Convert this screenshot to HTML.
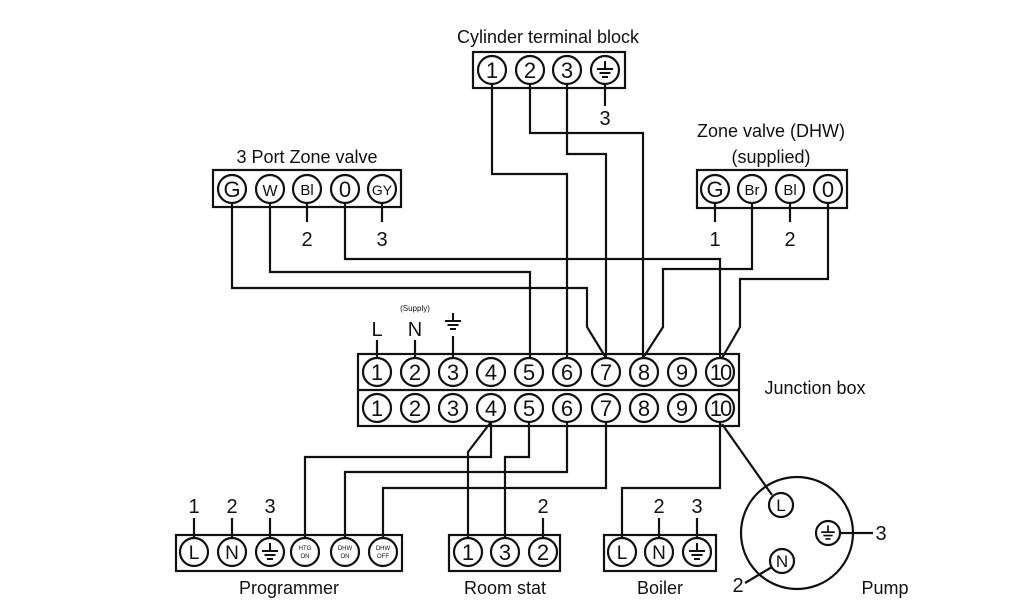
<!DOCTYPE html>
<html><head><meta charset="utf-8"><style>
html,body{margin:0;padding:0;background:#fff;width:1024px;height:600px;overflow:hidden}
svg{display:block}
text{font-family:"Liberation Sans",sans-serif;fill:#111}
</style></head><body>
<svg width="1024" height="600" viewBox="0 0 1024 600" xmlns="http://www.w3.org/2000/svg">
<defs>
<g id="earth"><line x1="0" y1="-9" x2="0" y2="-1" stroke="#111" stroke-width="2"/><line x1="-8" y1="-1" x2="8" y2="-1" stroke="#111" stroke-width="2"/><line x1="-5.5" y1="3" x2="5.5" y2="3" stroke="#111" stroke-width="2"/><line x1="-3" y1="7" x2="3" y2="7" stroke="#111" stroke-width="2"/></g>
</defs>
<g fill="none" stroke="#111" stroke-width="2.2">
<rect x="473" y="52" width="152" height="36"/>
<rect x="213" y="170" width="188" height="37"/>
<rect x="697" y="170" width="150" height="38"/>
<rect x="358" y="354" width="381" height="72"/>
<line x1="358" y1="390" x2="739" y2="390"/>
<rect x="176" y="535" width="226" height="36"/>
<rect x="449" y="535" width="111" height="36"/>
<rect x="604" y="535" width="112" height="36"/>
<circle cx="797" cy="533" r="56"/>
<polyline points="492,84 492,174 567,174 567,358"/>
<polyline points="530,84 530,133 643,133 643,358"/>
<polyline points="567,84 567,154 606,154 606,358"/>
<polyline points="232,203 232,288 587,288 587,327 606,358"/>
<polyline points="270,203 270,272 530,272 530,358"/>
<polyline points="345,203 345,259 720,259 720,358"/>
<polyline points="752,203 752,269 663,269 663,327 643,358"/>
<polyline points="828,203 828,279 740,279 740,327 722,358"/>
<line x1="605" y1="84" x2="605" y2="106"/>
<line x1="307" y1="203" x2="307" y2="222"/>
<line x1="382" y1="203" x2="382" y2="222"/>
<line x1="715" y1="203" x2="715" y2="222"/>
<line x1="790" y1="203" x2="790" y2="222"/>
<line x1="377" y1="340" x2="377" y2="358"/>
<line x1="415" y1="340" x2="415" y2="358"/>
<line x1="453" y1="336" x2="453" y2="358"/>
<polyline points="491,422 468,452 468,539"/>
<polyline points="491,422 491,457 305,457 305,539"/>
<polyline points="529,422 529,457 505,457 505,539"/>
<polyline points="567,422 567,472 345,472 345,539"/>
<polyline points="606,422 606,488 383,488 383,539"/>
<polyline points="720,422 720,488 622,488 622,539"/>
<line x1="722" y1="424" x2="772" y2="495"/>
<line x1="194" y1="518" x2="194" y2="539"/>
<line x1="232" y1="518" x2="232" y2="539"/>
<line x1="270" y1="518" x2="270" y2="539"/>
<line x1="543" y1="518" x2="543" y2="539"/>
<line x1="659" y1="518" x2="659" y2="539"/>
<line x1="697" y1="518" x2="697" y2="539"/>
<line x1="840" y1="533" x2="873" y2="533"/>
<line x1="772" y1="567" x2="745" y2="583"/>
</g>
<g fill="#fff" stroke="#111" stroke-width="2.2">
<circle cx="492" cy="70" r="14"/><circle cx="530" cy="70" r="14"/><circle cx="567" cy="70" r="14"/><circle cx="605" cy="70" r="14"/>
<circle cx="232" cy="189" r="14"/><circle cx="270" cy="189" r="14"/><circle cx="307" cy="189" r="14"/><circle cx="345" cy="189" r="14"/><circle cx="382" cy="189" r="14"/>
<circle cx="715" cy="189" r="14"/><circle cx="752" cy="189" r="14"/><circle cx="790" cy="189" r="14"/><circle cx="828" cy="189" r="14"/>
<g id="row"><circle cx="377" cy="372" r="14"/><circle cx="415" cy="372" r="14"/><circle cx="453" cy="372" r="14"/><circle cx="491" cy="372" r="14"/><circle cx="529" cy="372" r="14"/><circle cx="567" cy="372" r="14"/><circle cx="606" cy="372" r="14"/><circle cx="644" cy="372" r="14"/><circle cx="682" cy="372" r="14"/><circle cx="720" cy="372" r="14"/></g>
<use href="#row" y="36"/>
<circle cx="194" cy="552" r="14"/><circle cx="232" cy="552" r="14"/><circle cx="270" cy="552" r="14"/><circle cx="305" cy="552" r="14"/><circle cx="345" cy="552" r="14"/><circle cx="383" cy="552" r="14"/>
<circle cx="468" cy="552" r="14"/><circle cx="505" cy="552" r="14"/><circle cx="543" cy="552" r="14"/>
<circle cx="622" cy="552" r="14"/><circle cx="659" cy="552" r="14"/><circle cx="697" cy="552" r="14"/>
<circle cx="781" cy="505" r="12"/><circle cx="828" cy="533" r="12"/><circle cx="782" cy="561" r="12"/>
</g>
<use href="#earth" x="605" y="70"/>
<use href="#earth" x="453" y="322"/>
<use href="#earth" x="270" y="552"/>
<use href="#earth" x="697" y="552"/>
<g transform="translate(828,533) scale(0.85)"><use href="#earth"/></g>
<g font-size="18" text-anchor="middle">
<text x="548" y="43">Cylinder terminal block</text>
<text x="307" y="163">3 Port Zone valve</text>
<text x="771" y="137">Zone valve (DHW)</text>
<text x="771" y="163">(supplied)</text>
<text x="815" y="394">Junction box</text>
<text x="289" y="594">Programmer</text>
<text x="505" y="594">Room stat</text>
<text x="660" y="594">Boiler</text>
<text x="885" y="594">Pump</text>
</g>
<g font-size="22" text-anchor="middle">
<text x="492" y="78">1</text><text x="530" y="78">2</text><text x="567" y="78">3</text>
<text x="605" y="125" font-size="20">3</text>
<text x="232" y="197">G</text><text x="270" y="196" font-size="16">W</text><text x="307" y="195" font-size="15">Bl</text><text x="345" y="197">0</text><text x="382" y="195" font-size="14">GY</text>
<text x="307" y="246" font-size="20">2</text><text x="382" y="246" font-size="20">3</text>
<text x="715" y="197">G</text><text x="752" y="195" font-size="15">Br</text><text x="790" y="195" font-size="15">Bl</text><text x="828" y="197">0</text>
<text x="715" y="246" font-size="20">1</text><text x="790" y="246" font-size="20">2</text>
<text x="377" y="336" font-size="20">L</text><text x="415" y="336" font-size="20">N</text>
<text x="415" y="311" font-size="8">(Supply)</text>
</g>
<g font-size="22" text-anchor="middle" id="nums">
<text x="377" y="380">1</text><text x="415" y="380">2</text><text x="453" y="380">3</text><text x="491" y="380">4</text><text x="529" y="380">5</text><text x="567" y="380">6</text><text x="606" y="380">7</text><text x="644" y="380">8</text><text x="682" y="380">9</text><text x="720" y="380" letter-spacing="-2">10</text>
</g>
<use href="#nums" y="36"/>
<g font-size="20" text-anchor="middle">
<text x="194" y="513">1</text><text x="232" y="513">2</text><text x="270" y="513">3</text>
<text x="194" y="559" font-size="19">L</text><text x="232" y="559" font-size="19">N</text>
<text x="305" y="550" font-size="6" fill="#666">HTG</text><text x="305" y="558" font-size="6" fill="#666">ON</text>
<text x="345" y="550" font-size="6" fill="#666">DHW</text><text x="345" y="558" font-size="6" fill="#666">ON</text>
<text x="383" y="550" font-size="6" fill="#666">DHW</text><text x="383" y="558" font-size="6" fill="#666">OFF</text>
<text x="543" y="513">2</text>
<text x="468" y="560" font-size="22">1</text><text x="505" y="560" font-size="22">3</text><text x="543" y="560" font-size="22">2</text>
<text x="659" y="513">2</text><text x="697" y="513">3</text>
<text x="622" y="559" font-size="19">L</text><text x="659" y="559" font-size="19">N</text>
<text x="781" y="511" font-size="17">L</text><text x="782" y="567" font-size="17">N</text>
<text x="881" y="540">3</text><text x="738" y="592">2</text>
</g>
</svg>
</body></html>
